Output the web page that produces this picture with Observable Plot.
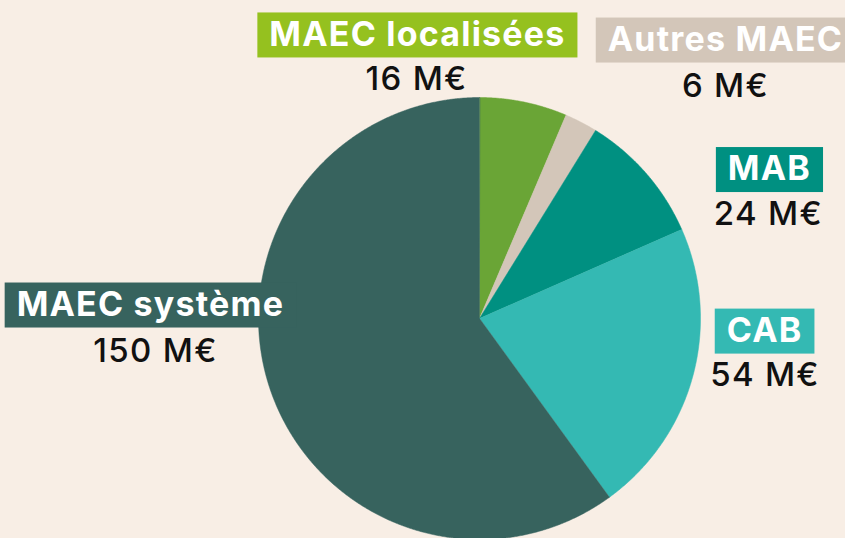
<!DOCTYPE html>
<html>
<head>
<meta charset="utf-8">
<script src="https://cdn.jsdelivr.net/npm/d3@7"></script>
<script src="https://cdn.jsdelivr.net/npm/@observablehq/plot@0.6"></script>
<style>
  html, body { margin: 0; padding: 0; background: #f8eee5; }
  #chart { width: 845px; height: 538px; overflow: hidden; }
  g.name-label text { letter-spacing: 1.2px; }
  g.value-label text { letter-spacing: 1.3px; }
</style>
</head>
<body>
<div id="chart"></div>
<script>
// ---- data ----
const labels = ["MAEC localisées", "Autres MAEC", "MAB", "CAB", "MAEC système"];
const values = [16, 6, 24, 54, 150];
const valueLabels = ["16 M€", "6 M€", "24 M€", "54 M€", "150 M€"];
const sliceColors = ["#6aa536", "#d3c6b9", "#009081", "#34b9b3", "#37635e"];
const boxColors = ["#95c11f", "#d3c6b9", "#009081", "#34b9b3", "#37635e"];
// label anchors in pie-radius units (centre = 0,0)
const nameU = [-0.281, 1.113, 1.312, 1.290, -1.489];
const nameV = [1.283, 1.260, 0.674, -0.057, 0.061];
const valU = [-0.285, 1.113, 1.307, 1.292, -1.466];
const valV = [1.081, 1.052, 0.471, -0.258, -0.147];

// ---- layout ----
const W = 845, H = 538, cx = 479, cy = 318, R = 221;

const pie = d3.pie().sort(null).value(d => d.value)(
  labels.map((l, i) => ({label: l, value: values[i]}))
);
const slicePts = [];
pie.forEach(s => {
  slicePts.push({label: s.data.label, u: 0, v: 0});
  const n = Math.max(2, Math.ceil((s.endAngle - s.startAngle) / 0.005));
  for (let k = 0; k <= n; k++) {
    const a = s.startAngle + (s.endAngle - s.startAngle) * k / n;
    slicePts.push({label: s.data.label, u: Math.sin(a), v: Math.cos(a)});
  }
});

const nameRows = labels.map((l, i) => ({label: l, u: nameU[i], v: nameV[i]}));
const valRows = valueLabels.map((l, i) => ({label: l, u: valU[i], v: valV[i]}));

const plot = Plot.plot({
  width: W, height: H,
  margin: 0,
  style: {background: "#f8eee5", overflow: "visible"},
  x: {domain: [-cx / R, (W - cx) / R], axis: null},
  y: {domain: [(cy - H) / R, cy / R], axis: null},
  color: {domain: labels, range: sliceColors},
  marks: [
    Plot.line(slicePts, {x: "u", y: "v", z: "label", fill: "label", stroke: "label", strokeWidth: 0.5, curve: "linear-closed"}),
    Plot.text(nameRows, {x: "u", y: "v", text: "label", fill: "white", fontSize: 34, fontWeight: 700,
      fontFamily: "Inter", textAnchor: "middle", lineAnchor: "middle", className: "name-label"}),
    Plot.text(valRows, {x: "u", y: "v", text: "label", fill: "#111", fontSize: 33, fontWeight: 500,
      fontFamily: "Inter", textAnchor: "middle", lineAnchor: "middle", className: "value-label"})
  ]
});
document.getElementById("chart").appendChild(plot);

// background boxes behind the category names
const xs = plot.scale("x"), ys = plot.scale("y");
const g = plot.querySelector("g.name-label");
const texts = Array.from(g.querySelectorAll("text"));
texts.forEach((t, i) => {
  const bb = t.getBBox();
  const r = document.createElementNS("http://www.w3.org/2000/svg", "rect");
  const xc = xs.apply(nameU[i]), yc = ys.apply(nameV[i]);
  r.setAttribute("x", xc - bb.width / 2 - 12);
  r.setAttribute("width", bb.width + 24);
  r.setAttribute("y", yc - 22.5);
  r.setAttribute("height", 45);
  r.setAttribute("fill", boxColors[i]);
  g.insertBefore(r, g.firstChild);
});
</script>
</body>
</html>
